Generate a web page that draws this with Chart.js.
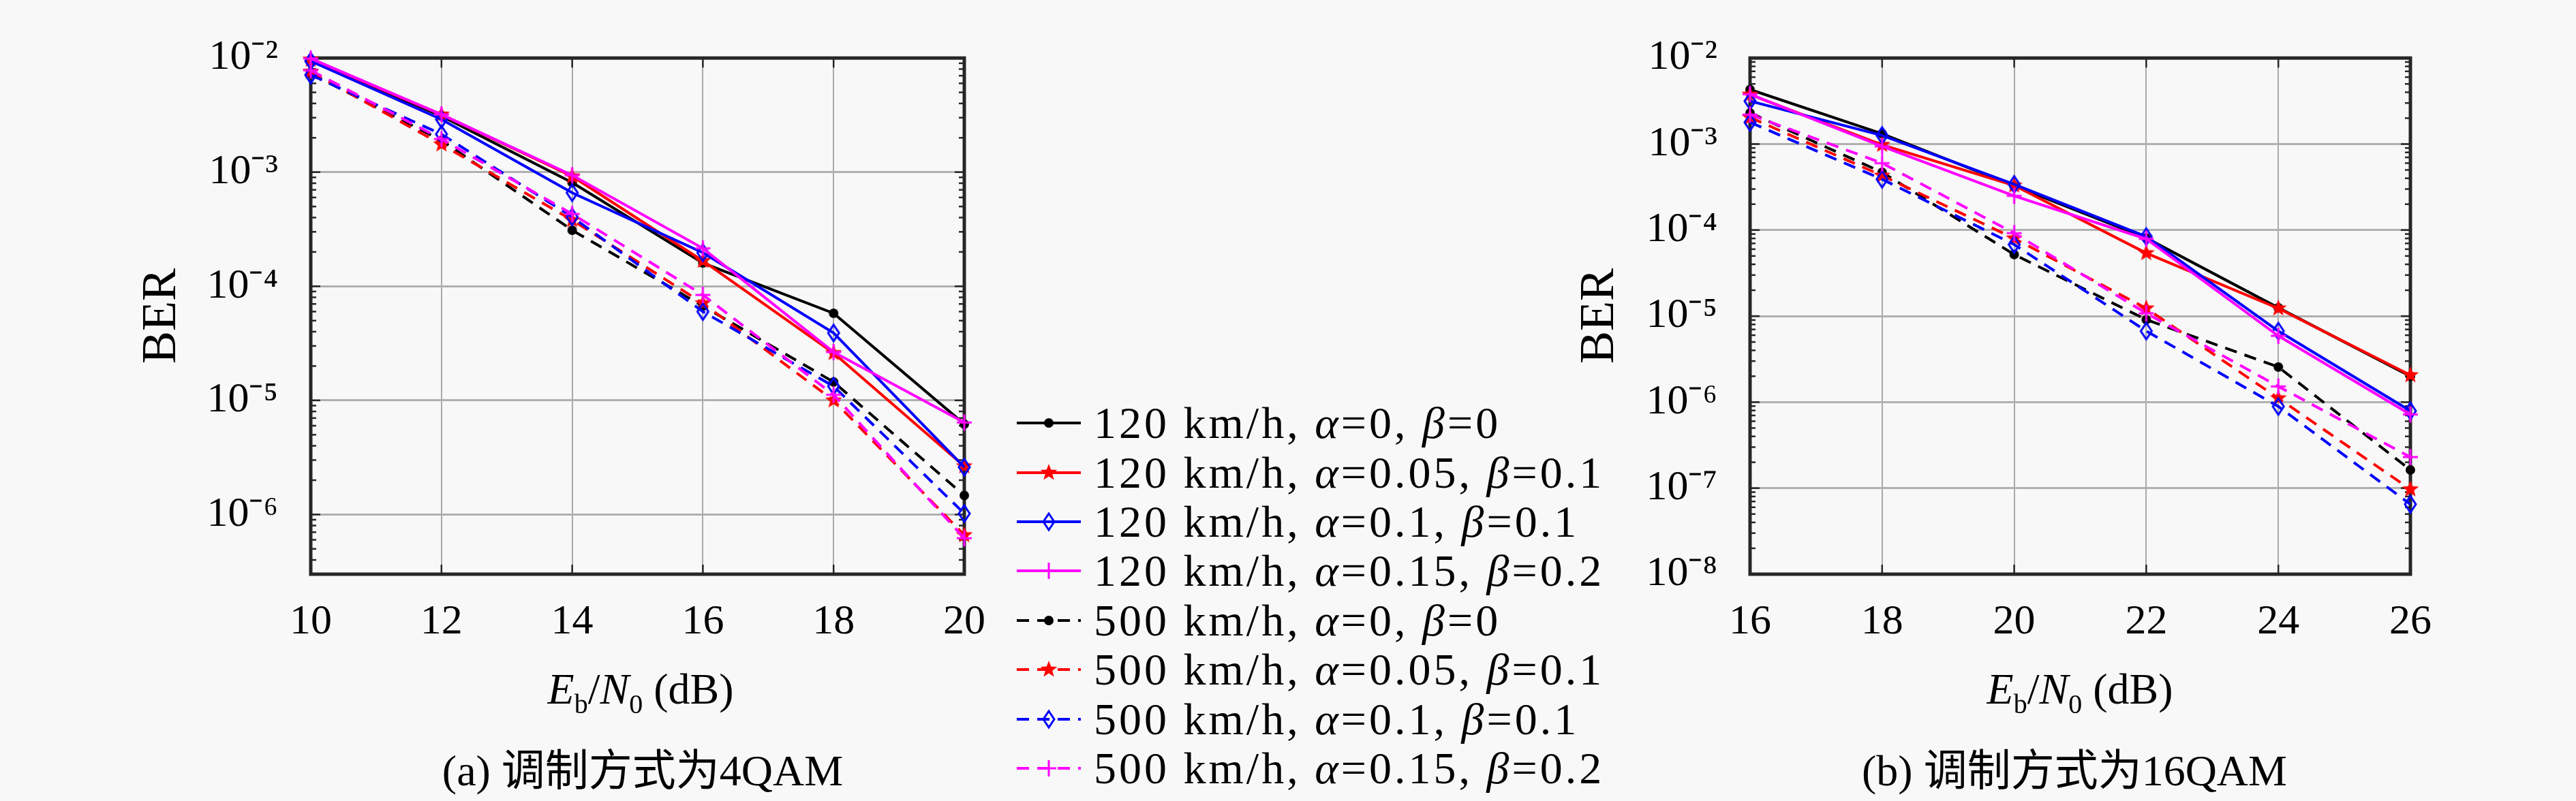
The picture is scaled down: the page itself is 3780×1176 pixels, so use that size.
<!DOCTYPE html>
<html lang="zh">
<head>
<meta charset="utf-8">
<title>BER</title>
<script src="https://cdn.jsdelivr.net/npm/chart.js@4.4.1/dist/chart.umd.min.js"></script>
<style>
  html, body { margin: 0; padding: 0; }
  body { width: 3780px; height: 1176px; background: #f8f8f8; position: relative; overflow: hidden;
         font-family: "Liberation Serif", "Noto Sans CJK SC", serif; color: #000; }
  .chart { position: absolute; top: 0; }
  #chartA { left: 0; }
  #chartB { left: 2250px; }
  .xtitle, .caption { position: absolute; font-size: 64px; line-height: 64px; white-space: nowrap; transform: translateX(-50%); }
  .xtitle sub { font-size: 40px; vertical-align: baseline; position: relative; top: 14px; }
  #legend { position: absolute; left: 1490px; top: 585px; }
  .row { height: 72.4px; display: flex; align-items: center; font-size: 66px; line-height: 66px; white-space: nowrap; letter-spacing: 4px; }
  .row canvas { margin-right: 15px; }
</style>
</head>
<body>
<canvas id="chartA" class="chart" width="1480" height="1176"></canvas>
<canvas id="chartB" class="chart" width="1530" height="1176"></canvas>
<div class="xtitle" style="left:940px;top:980px"><i>E</i><sub>b</sub>/<i>N</i><sub>0</sub> (dB)</div>
<div class="xtitle" style="left:3052px;top:980px"><i>E</i><sub>b</sub>/<i>N</i><sub>0</sub> (dB)</div>
<div class="caption" style="left:943px;top:1100px">(a) 调制方式为4QAM</div>
<div class="caption" style="left:3044px;top:1100px">(b) 调制方式为16QAM</div>
<div id="legend"></div>

<script>
// x values (Eb/N0 in dB)
const snrA = [10, 12, 14, 16, 18, 20]
const snrB = [16, 18, 20, 22, 24, 26]

const seriesLabels = [
  '120 km/h, α=0, β=0',
  '120 km/h, α=0.05, β=0.1',
  '120 km/h, α=0.1, β=0.1',
  '120 km/h, α=0.15, β=0.2',
  '500 km/h, α=0, β=0',
  '500 km/h, α=0.05, β=0.1',
  '500 km/h, α=0.1, β=0.1',
  '500 km/h, α=0.15, β=0.2'
]

// (a) 4QAM
const berA_120_a0   = [9.6e-3, 3.1e-3, 8.1e-4, 1.6e-4, 5.8e-5, 6.2e-6]
const berA_120_a005 = [9.7e-3, 3.2e-3, 9.2e-4, 1.67e-4, 2.6e-5, 2.65e-6]
const berA_120_a01  = [9.4e-3, 2.9e-3, 6.6e-4, 1.97e-4, 3.9e-5, 2.6e-6]
const berA_120_a015 = [9.9e-3, 3.2e-3, 9.4e-4, 2.15e-4, 2.65e-5, 6.4e-6]
const berA_500_a0   = [7.3e-3, 1.9e-3, 3.1e-4, 6.7e-5, 1.45e-5, 1.47e-6]
const berA_500_a005 = [7.6e-3, 1.75e-3, 3.8e-4, 7.1e-5, 1.0e-5, 6.6e-7]
const berA_500_a01  = [7.1e-3, 2.15e-3, 4.05e-4, 6.0e-5, 1.33e-5, 1.02e-6]
const berA_500_a015 = [7.8e-3, 1.95e-3, 4.3e-4, 8.4e-5, 1.12e-5, 6.2e-7]

// (b) 16QAM
const berB_120_a0   = [4.3e-3, 1.32e-3, 3.26e-4, 8.1e-5, 1.25e-5, 2.0e-6]
const berB_120_a005 = [3.76e-3, 9.8e-4, 3.3e-4, 5.4e-5, 1.23e-5, 2.06e-6]
const berB_120_a01  = [3.16e-3, 1.26e-3, 3.4e-4, 8.4e-5, 6.7e-6, 7.9e-7]
const berB_120_a015 = [3.8e-3, 9.4e-4, 2.5e-4, 7.9e-5, 5.9e-6, 7.2e-7]
const berB_500_a0   = [2.3e-3, 4.7e-4, 5.2e-5, 9.1e-6, 2.56e-6, 1.63e-7]
const berB_500_a005 = [2.04e-3, 4.3e-4, 8.0e-5, 1.23e-5, 1.11e-6, 9.7e-8]
const berB_500_a01  = [1.79e-3, 3.9e-4, 6.8e-5, 6.7e-6, 8.9e-7, 6.5e-8]
const berB_500_a015 = [2.2e-3, 6.0e-4, 9.2e-5, 1.08e-5, 1.52e-6, 2.3e-7]

// y tick labels: powers of ten shown
const yTickExpA = [-2, -3, -4, -5, -6]
const yTickExpB = [-2, -3, -4, -5, -6, -7, -8]

// styles
const seriesColors = ['#000000', '#ff0000', '#0000ff', '#ff00ff', '#000000', '#ff0000', '#0000ff', '#ff00ff']
const seriesMarkers = ['dot', 'pentagram', 'diamond', 'plus', 'dot', 'pentagram', 'diamond', 'plus']
const seriesDashed = [false, false, false, false, true, true, true, true]

const FONT = '"Liberation Serif", serif'
const SUP = { '-': '⁻', '0': '⁰', '1': '¹', '2': '²', '3': '³', '4': '⁴', '5': '⁵', '6': '⁶', '7': '⁷', '8': '⁸', '9': '⁹' }

function makeMarker(kind, color) {
  const c = document.createElement('canvas')
  c.width = 36
  c.height = 36
  const g = c.getContext('2d')
  const m = 18
  g.fillStyle = color
  g.strokeStyle = color
  g.lineWidth = 3
  g.beginPath()
  if (kind === 'dot') {
    g.arc(m, m, 7, 0, Math.PI * 2)
    g.fill()
  } else if (kind === 'pentagram') {
    for (let k = 0; k < 10; k++) {
      const r = k % 2 ? 5.5 : 13
      const a = -Math.PI / 2 + k * Math.PI / 5
      g.lineTo(m + r * Math.cos(a), m + r * Math.sin(a))
    }
    g.closePath()
    g.fill()
  } else if (kind === 'diamond') {
    g.moveTo(m, m - 12); g.lineTo(m + 8, m); g.lineTo(m, m + 12); g.lineTo(m - 8, m)
    g.closePath()
    g.stroke()
  } else {
    g.moveTo(m, m - 12); g.lineTo(m, m + 12)
    g.moveTo(m - 11, m); g.lineTo(m + 11, m)
    g.stroke()
  }
  return c
}

const markerImgs = seriesMarkers.map((k, i) => makeMarker(k, seriesColors[i]))

// box, inward ticks (MATLAB style)
const framePlugin = {
  id: 'frame',
  beforeDatasetsDraw(chart) {
    const { ctx, chartArea: a, scales: { x, y } } = chart
    const seg = (x1, y1, x2, y2) => { ctx.beginPath(); ctx.moveTo(x1, y1); ctx.lineTo(x2, y2); ctx.stroke() }
    ctx.save()
    ctx.strokeStyle = '#262626'
    ctx.lineWidth = 2.5
    y.ticks.forEach(t => {
      const py = y.getPixelForValue(t.value)
      const len = t.major ? 14 : 8
      seg(a.left, py, a.left + len, py)
      seg(a.right, py, a.right - len, py)
    })
    x.ticks.forEach(t => {
      const px = x.getPixelForValue(t.value)
      seg(px, a.bottom, px, a.bottom - 14)
      seg(px, a.top, px, a.top + 14)
    })
    ctx.lineWidth = 5
    ctx.strokeRect(a.left, a.top, a.right - a.left, a.bottom - a.top)
    ctx.restore()
  }
}

function logTicks(scale) {
  const t = []
  const lo = Math.floor(Math.log10(scale.min) + 1e-9)
  const hi = Math.ceil(Math.log10(scale.max) - 1e-9)
  for (let e = lo; e <= hi; e++) {
    for (let s = 1; s < 10; s++) {
      const v = s * Math.pow(10, e)
      if (v >= scale.min * 0.999 && v <= scale.max * 1.001) t.push({ value: v, major: s === 1 })
    }
  }
  scale.ticks = t
}

function buildChart(id, snr, bers, yMin, tickExp, yWidth, padRight, titlePad) {
  return new Chart(document.getElementById(id), {
    type: 'line',
    data: {
      datasets: bers.map((b, i) => ({
        label: seriesLabels[i],
        data: snr.map((x, k) => ({ x: x, y: b[k] })),
        borderColor: seriesColors[i],
        backgroundColor: seriesColors[i],
        borderWidth: 4,
        borderDash: seriesDashed[i] ? [18, 12] : [],
        pointStyle: markerImgs[i],
        pointRadius: 12,
        pointHoverRadius: 12,
        tension: 0,
        fill: false,
        clip: false,
        order: bers.length - i
      }))
    },
    options: {
      responsive: false,
      animation: false,
      devicePixelRatio: 1,
      layout: { padding: { left: 0, top: 35, right: padRight, bottom: 0 } },
      plugins: { legend: { display: false }, tooltip: { enabled: false } },
      scales: {
        x: {
          type: 'linear',
          min: snr[0],
          max: snr[snr.length - 1],
          afterBuildTicks: s => { s.ticks = snr.map(v => ({ value: v })) },
          afterFit: s => { s.height = 1176 - 843 },
          border: { display: false },
          grid: { color: '#a9a9a9', lineWidth: 2, drawTicks: false },
          ticks: { color: '#000', font: { family: FONT, size: 62 }, padding: 34, maxRotation: 0, autoSkip: false }
        },
        y: {
          type: 'logarithmic',
          min: yMin,
          max: 1e-2,
          afterBuildTicks: logTicks,
          afterFit: s => { s.width = yWidth },
          border: { display: false },
          grid: {
            drawTicks: false,
            lineWidth: 3,
            color: c => (c.tick && c.tick.major) ? '#b0b0b0' : 'rgba(0,0,0,0)'
          },
          ticks: {
            color: '#000',
            font: { family: FONT, size: 62 },
            padding: 48,
            autoSkip: false,
            callback: v => {
              const e = Math.round(Math.log10(v))
              if (Math.abs(v / Math.pow(10, e) - 1) > 1e-6 || !tickExp.includes(e)) return ''
              return '10' + String(e).split('').map(ch => SUP[ch]).join('')
            }
          },
          title: {
            display: true,
            text: 'BER',
            color: '#000',
            font: { family: FONT, size: 72 },
            padding: { top: titlePad, bottom: 0 }
          }
        }
      }
    },
    plugins: [framePlugin]
  })
}

buildChart('chartA', snrA,
  [berA_120_a0, berA_120_a005, berA_120_a01, berA_120_a015, berA_500_a0, berA_500_a005, berA_500_a01, berA_500_a015],
  3e-7, yTickExpA, 456, 56, 195)

buildChart('chartB', snrB,
  [berB_120_a0, berB_120_a005, berB_120_a01, berB_120_a015, berB_500_a0, berB_500_a005, berB_500_a01, berB_500_a015],
  1e-8, yTickExpB, 318, 243, 55)

// legend between the two plots
const legendEl = document.getElementById('legend')
seriesLabels.forEach((lab, i) => {
  const row = document.createElement('div')
  row.className = 'row'
  const c = document.createElement('canvas')
  c.width = 100
  c.height = 44
  const g = c.getContext('2d')
  g.strokeStyle = seriesColors[i]
  g.lineWidth = 4
  g.setLineDash(seriesDashed[i] ? [18, 12] : [])
  g.beginPath()
  g.moveTo(2, 22)
  g.lineTo(96, 22)
  g.stroke()
  const m = markerImgs[i]
  g.drawImage(m, 49 - m.width / 2, 22 - m.height / 2)
  row.appendChild(c)
  const span = document.createElement('span')
  span.innerHTML = lab.replace(/([αβ])/g, '<i>$1</i>')
  row.appendChild(span)
  legendEl.appendChild(row)
})
</script>
</body>
</html>
